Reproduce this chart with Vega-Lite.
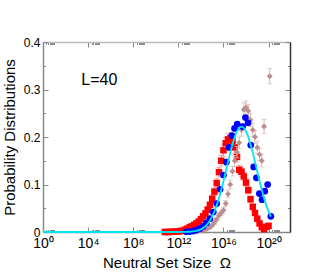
{
  "$schema": "https://vega.github.io/schema/vega-lite/v6.json",
  "width": 247,
  "height": 190,
  "autosize": {"type": "none"},
  "padding": {"left": 43, "top": 42, "right": 37, "bottom": 41},
  "config": {
    "font": "Liberation Sans",
    "view": {"stroke": null},
    "axis": {"grid": false, "labelColor": "#000", "titleColor": "#000", "titleFontWeight": "normal"}
  },
  "datasets": {
    "red": [
      {"logOmega": 10.8, "p": 0.0, "err": 0.001}, {"logOmega": 11.0, "p": 0.0, "err": 0.001},
      {"logOmega": 11.2, "p": 0.0, "err": 0.001}, {"logOmega": 11.4, "p": 0.0005, "err": 0.001},
      {"logOmega": 11.6, "p": 0.0005, "err": 0.001}, {"logOmega": 11.8, "p": 0.001, "err": 0.001},
      {"logOmega": 12.0, "p": 0.001, "err": 0.001}, {"logOmega": 12.2, "p": 0.002, "err": 0.001},
      {"logOmega": 12.4, "p": 0.003, "err": 0.002}, {"logOmega": 12.6, "p": 0.005, "err": 0.002},
      {"logOmega": 12.8, "p": 0.007, "err": 0.002}, {"logOmega": 13.0, "p": 0.010, "err": 0.003},
      {"logOmega": 13.2, "p": 0.012, "err": 0.003}, {"logOmega": 13.4, "p": 0.015, "err": 0.003},
      {"logOmega": 13.6, "p": 0.018, "err": 0.004}, {"logOmega": 13.8, "p": 0.022, "err": 0.004},
      {"logOmega": 14.0, "p": 0.027, "err": 0.005}, {"logOmega": 14.2, "p": 0.033, "err": 0.005},
      {"logOmega": 14.4, "p": 0.039, "err": 0.006}, {"logOmega": 14.6, "p": 0.047, "err": 0.006},
      {"logOmega": 14.8, "p": 0.057, "err": 0.007}, {"logOmega": 15.0, "p": 0.070, "err": 0.008},
      {"logOmega": 15.2, "p": 0.085, "err": 0.008}, {"logOmega": 15.4, "p": 0.103, "err": 0.009},
      {"logOmega": 15.6, "p": 0.126, "err": 0.010}, {"logOmega": 15.8, "p": 0.150, "err": 0.011},
      {"logOmega": 16.0, "p": 0.172, "err": 0.012}, {"logOmega": 16.2, "p": 0.187, "err": 0.012},
      {"logOmega": 16.4, "p": 0.195, "err": 0.012}, {"logOmega": 16.6, "p": 0.197, "err": 0.012},
      {"logOmega": 16.8, "p": 0.192, "err": 0.012}, {"logOmega": 17.0, "p": 0.178, "err": 0.012},
      {"logOmega": 17.2, "p": 0.158, "err": 0.011}, {"logOmega": 17.4, "p": 0.131, "err": 0.010},
      {"logOmega": 17.6, "p": 0.127, "err": 0.010}, {"logOmega": 17.8, "p": 0.117, "err": 0.009},
      {"logOmega": 18.0, "p": 0.104, "err": 0.008}, {"logOmega": 18.2, "p": 0.088, "err": 0.008},
      {"logOmega": 18.4, "p": 0.069, "err": 0.007}, {"logOmega": 18.6, "p": 0.053, "err": 0.006},
      {"logOmega": 18.8, "p": 0.040, "err": 0.005}, {"logOmega": 19.0, "p": 0.028, "err": 0.005},
      {"logOmega": 19.2, "p": 0.018, "err": 0.004}, {"logOmega": 19.4, "p": 0.010, "err": 0.003},
      {"logOmega": 19.6, "p": 0.006, "err": 0.003}, {"logOmega": 19.8, "p": 0.011, "err": 0.003},
      {"logOmega": 20.0, "p": 0.013, "err": 0.003}
    ],
    "rosy": [
      {"logOmega": 13.6, "p": 0.001, "err": 0.001}, {"logOmega": 13.9, "p": 0.002, "err": 0.001},
      {"logOmega": 14.2, "p": 0.003, "err": 0.002}, {"logOmega": 14.5, "p": 0.006, "err": 0.002},
      {"logOmega": 14.8, "p": 0.010, "err": 0.003}, {"logOmega": 15.0, "p": 0.014, "err": 0.003},
      {"logOmega": 15.2, "p": 0.020, "err": 0.004}, {"logOmega": 15.4, "p": 0.027, "err": 0.004},
      {"logOmega": 15.6, "p": 0.035, "err": 0.005}, {"logOmega": 15.8, "p": 0.040, "err": 0.005},
      {"logOmega": 16.0, "p": 0.046, "err": 0.006}, {"logOmega": 16.2, "p": 0.060, "err": 0.006},
      {"logOmega": 16.4, "p": 0.080, "err": 0.008}, {"logOmega": 16.6, "p": 0.100, "err": 0.009},
      {"logOmega": 16.8, "p": 0.128, "err": 0.010}, {"logOmega": 17.0, "p": 0.150, "err": 0.011},
      {"logOmega": 17.2, "p": 0.168, "err": 0.012}, {"logOmega": 17.4, "p": 0.188, "err": 0.012},
      {"logOmega": 17.6, "p": 0.215, "err": 0.013}, {"logOmega": 17.8, "p": 0.258, "err": 0.014},
      {"logOmega": 18.0, "p": 0.262, "err": 0.014}, {"logOmega": 18.2, "p": 0.255, "err": 0.014},
      {"logOmega": 18.4, "p": 0.236, "err": 0.014}, {"logOmega": 18.6, "p": 0.215, "err": 0.014},
      {"logOmega": 18.8, "p": 0.200, "err": 0.014}, {"logOmega": 19.0, "p": 0.178, "err": 0.013},
      {"logOmega": 19.2, "p": 0.163, "err": 0.013}, {"logOmega": 19.4, "p": 0.150, "err": 0.013},
      {"logOmega": 19.6, "p": 0.222, "err": 0.015}, {"logOmega": 20.1, "p": 0.328, "err": 0.016}
    ],
    "blue": [
      {"logOmega": 12.7, "p": 0.0005}, {"logOmega": 13.0, "p": 0.001}, {"logOmega": 13.3, "p": 0.002},
      {"logOmega": 13.6, "p": 0.004}, {"logOmega": 13.9, "p": 0.007}, {"logOmega": 14.2, "p": 0.012},
      {"logOmega": 14.5, "p": 0.019}, {"logOmega": 14.8, "p": 0.028}, {"logOmega": 15.1, "p": 0.042},
      {"logOmega": 15.4, "p": 0.060}, {"logOmega": 15.7, "p": 0.090}, {"logOmega": 16.0, "p": 0.120},
      {"logOmega": 16.26, "p": 0.147}, {"logOmega": 16.5, "p": 0.178}, {"logOmega": 16.75, "p": 0.203},
      {"logOmega": 16.98, "p": 0.218}, {"logOmega": 17.22, "p": 0.227}, {"logOmega": 17.7, "p": 0.222},
      {"logOmega": 17.95, "p": 0.241}, {"logOmega": 18.18, "p": 0.230}, {"logOmega": 18.42, "p": 0.183},
      {"logOmega": 18.68, "p": 0.137}, {"logOmega": 18.92, "p": 0.114}, {"logOmega": 19.18, "p": 0.081},
      {"logOmega": 19.42, "p": 0.068}, {"logOmega": 19.66, "p": 0.086}, {"logOmega": 19.92, "p": 0.100},
      {"logOmega": 20.2, "p": 0.033}
    ],
    "fit": [
      {"logOmega": 0, "p": 0}, {"logOmega": 12.0, "p": 0.0}, {"logOmega": 12.5, "p": 0.0001},
      {"logOmega": 13.0, "p": 0.0005}, {"logOmega": 13.5, "p": 0.0018}, {"logOmega": 14.0, "p": 0.0055},
      {"logOmega": 14.5, "p": 0.0143}, {"logOmega": 15.0, "p": 0.0322}, {"logOmega": 15.5, "p": 0.063},
      {"logOmega": 16.0, "p": 0.1068}, {"logOmega": 16.5, "p": 0.1571}, {"logOmega": 17.0, "p": 0.2003},
      {"logOmega": 17.3, "p": 0.2164}, {"logOmega": 17.6, "p": 0.222}, {"logOmega": 17.9, "p": 0.2164},
      {"logOmega": 18.2, "p": 0.2003}, {"logOmega": 18.7, "p": 0.1571}, {"logOmega": 19.2, "p": 0.1068},
      {"logOmega": 19.7, "p": 0.063}, {"logOmega": 20.2, "p": 0.0322}
    ],
    "label": [{"logOmega": 3.4, "p": 0.309, "text": "L=40"}]
  },
  "resolve": {"axis": {"x": "independent", "y": "independent"}},
  "layer": [
    {
      "data": {"name": "red"},
      "mark": {"type": "errorbar", "ticks": true, "color": "#ff8080", "thickness": 1},
      "encoding": {
        "x": {"field": "logOmega", "type": "quantitative", "scale": {"domain": [0, 21.9], "nice": false, "zero": false}, "axis": null},
        "y": {"field": "p", "type": "quantitative", "scale": {"domain": [0, 0.4], "nice": false}, "axis": null},
        "yError": {"field": "err"}
      }
    },
    {
      "data": {"name": "red"},
      "mark": {"type": "point", "shape": "square", "filled": true, "color": "#ff0000", "opacity": 1, "size": 42},
      "encoding": {
        "x": {"field": "logOmega", "type": "quantitative",
          "axis": {
            "orient": "bottom", "title": "Neutral Set Size\u00a0 Ω", "titleFontSize": 15, "titlePadding": 3,
            "values": [0, 0.301, 0.477, 0.602, 0.699, 0.778, 0.845, 0.903, 0.954,
                       4, 4.301, 4.477, 4.602, 4.699, 4.778, 4.845, 4.903, 4.954,
                       8, 8.301, 8.477, 8.602, 8.699, 8.778, 8.845, 8.903, 8.954,
                       12, 12.301, 12.477, 12.602, 12.699, 12.778, 12.845, 12.903, 12.954,
                       16, 16.301, 16.477, 16.602, 16.699, 16.778, 16.845, 16.903, 16.954,
                       20, 20.301, 20.477, 20.602, 20.699, 20.778, 20.845, 20.903, 20.954],
            "labelExpr": "datum.value==0?'10⁰':datum.value==4?'10⁴':datum.value==8?'10⁸':datum.value==12?'10¹²':datum.value==16?'10¹⁶':datum.value==20?'10²⁰':''",
            "labelOverlap": false, "labelFontSize": 14, "labelPadding": 9, "labelFlush": false,
            "tickSize": {"condition": {"test": "datum.value % 4 == 0", "value": -5}, "value": -2.5},
            "tickColor": "#888", "domainColor": "#888", "domainWidth": 1.5
          }
        },
        "y": {"field": "p", "type": "quantitative",
          "axis": {
            "orient": "left", "title": "Probability Distributions", "titleFontSize": 15, "titlePadding": 6,
            "values": [0, 0.05, 0.1, 0.15, 0.2, 0.25, 0.3, 0.35, 0.4],
            "labelExpr": "round(datum.value*100) % 10 == 0 ? (datum.value == 0 ? '0' : format(datum.value, '.1f')) : ''",
            "labelFontSize": 12, "labelPadding": 8, "labelFlush": false, "labelOverlap": false,
            "tickSize": {"condition": {"test": "round(datum.value*100) % 10 == 0", "value": -5}, "value": -2.5},
            "tickColor": "#888", "domainColor": "#888", "domainWidth": 1.5
          }
        }
      }
    },
    {
      "data": {"name": "rosy"},
      "mark": {"type": "errorbar", "ticks": true, "color": "#dcb8b8", "thickness": 1},
      "encoding": {
        "x": {"field": "logOmega", "type": "quantitative", "axis": null},
        "y": {"field": "p", "type": "quantitative", "axis": null},
        "yError": {"field": "err"}
      }
    },
    {
      "data": {"name": "rosy"},
      "mark": {"type": "point", "shape": "diamond", "filled": true, "color": "#bc8f8f", "opacity": 1, "size": 35},
      "encoding": {
        "x": {"field": "logOmega", "type": "quantitative", "axis": null},
        "y": {"field": "p", "type": "quantitative", "axis": null}
      }
    },
    {
      "data": {"name": "blue"},
      "mark": {"type": "circle", "color": "#0000ff", "opacity": 1, "size": 45},
      "encoding": {
        "x": {"field": "logOmega", "type": "quantitative", "axis": null},
        "y": {"field": "p", "type": "quantitative", "axis": null}
      }
    },
    {
      "data": {"name": "fit"},
      "mark": {"type": "line", "color": "#00e6f0", "strokeWidth": 1.8, "interpolate": "monotone"},
      "encoding": {
        "x": {"field": "logOmega", "type": "quantitative",
          "axis": {
            "orient": "top", "title": null, "labels": false,
            "values": [0, 0.301, 0.477, 0.602, 0.699, 0.778, 0.845, 0.903, 0.954,
                       4, 4.301, 4.477, 4.602, 4.699, 4.778, 4.845, 4.903, 4.954,
                       8, 8.301, 8.477, 8.602, 8.699, 8.778, 8.845, 8.903, 8.954,
                       12, 12.301, 12.477, 12.602, 12.699, 12.778, 12.845, 12.903, 12.954,
                       16, 16.301, 16.477, 16.602, 16.699, 16.778, 16.845, 16.903, 16.954,
                       20, 20.301, 20.477, 20.602, 20.699, 20.778, 20.845, 20.903, 20.954],
            "tickSize": {"condition": {"test": "datum.value % 4 == 0", "value": -5}, "value": -2.5},
            "tickColor": "#888", "domainColor": "#bbb", "domainWidth": 1.5
          }
        },
        "y": {"field": "p", "type": "quantitative",
          "axis": {
            "orient": "right", "title": null, "labels": false,
            "values": [0, 0.05, 0.1, 0.15, 0.2, 0.25, 0.3, 0.35, 0.4],
            "tickSize": {"condition": {"test": "round(datum.value*100) % 10 == 0", "value": -5}, "value": -2.5},
            "tickColor": "#888", "domainColor": "#333", "domainWidth": 1.5
          }
        }
      }
    },
    {
      "data": {"name": "label"},
      "mark": {"type": "text", "align": "left", "baseline": "alphabetic", "fontSize": 16, "color": "#000"},
      "encoding": {
        "x": {"field": "logOmega", "type": "quantitative", "axis": null},
        "y": {"field": "p", "type": "quantitative", "axis": null},
        "text": {"field": "text"}
      }
    }
  ]
}
